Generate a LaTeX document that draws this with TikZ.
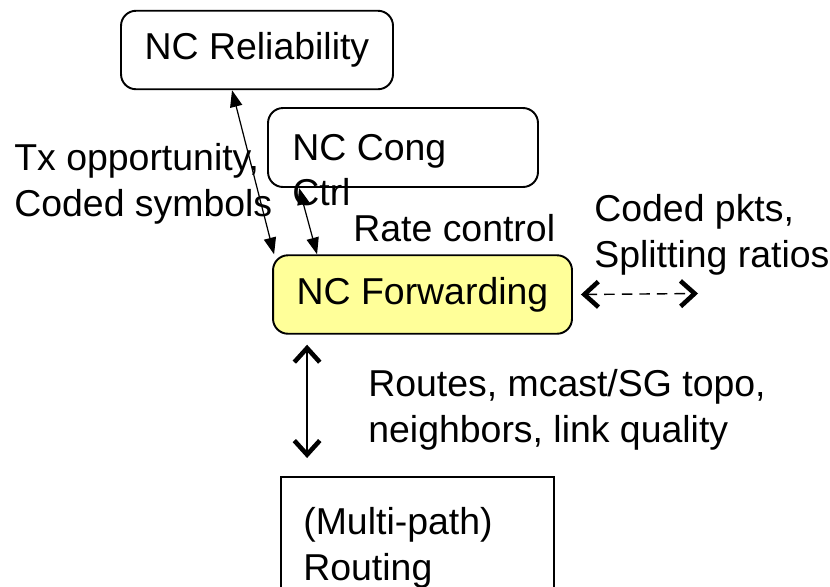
\documentclass[tikz,border=0pt]{standalone}
\usepackage{fontspec}
\setmainfont{Liberation Sans}
\usetikzlibrary{arrows.meta, positioning}
\definecolor{fwdyellow}{RGB}{255,255,153}

\begin{document}
\begin{tikzpicture}[x=0.02cm, y=-0.02cm,
    font=\fontsize{21.3pt}{26pt}\selectfont,
    block/.style={draw, line width=1.1pt, rounded corners=0.3cm, minimum height=1.57cm, inner sep=0pt},
    lbl/.style={align=left, inner sep=0pt, anchor=west},
    tri/.style={{Triangle[length=9.5pt,width=7pt]}-{Triangle[length=9.5pt,width=7pt]}, line width=0.7pt},
    barb/.style={{Straight Barb[length=8pt,width=14.5pt,line width=2.6pt]}-{Straight Barb[length=8pt,width=14.5pt,line width=2.6pt]}, line width=0.8pt}]
    \clip (0,0) rectangle (830,586);
    \node[block, minimum width=5.44cm] (rel) at (257,50) {NC Reliability};
    \node[block, minimum width=5.4cm, minimum height=1.58cm] (cong) at (403,147.5) {};
    \node[lbl] (congtxt) at (292,170) {NC Cong\\Ctrl};
    \node[block, minimum width=5.98cm, fill=fwdyellow] (fwd) at (422.5,294.5) {NC Forwarding};
    \node[draw, line width=1.1pt, minimum width=5.46cm, minimum height=3cm, anchor=north west, inner sep=0pt] (route) at (280,476) {};
    \node[lbl] (routetxt) at (303,548) {(Multi-path)\\Routing};
    \coordinate (pkts) at (698,293.5);
    % labels
    \node[lbl] (txop) at (14,184) {Tx opportunity,\\Coded symbols};
    \node[lbl] (rate) at (353,228) {Rate control};
    \node[lbl] (coded) at (594,235) {Coded pkts,\\Splitting ratios};
    \node[lbl] (routes) at (368,410) {Routes, mcast/SG topo,\\neighbors, link quality};
    % arrows
    \draw[tri] ([xshift=2.24cm]rel.south west) -- ([xshift=0.04cm]fwd.north west);
    \draw[tri] ([xshift=0.64cm]cong.south west) -- ([xshift=0.9cm]fwd.north west);
    \draw[barb, dash pattern=on 6pt off 4pt] ([xshift=0.16cm]fwd.east) -- (pkts);
    \draw[barb, shorten <=0.2cm, shorten >=0.36cm] ([xshift=0.7cm]fwd.south west) -- ([xshift=0.7cm]fwd.south west |- route.north);
\end{tikzpicture}
\end{document}
